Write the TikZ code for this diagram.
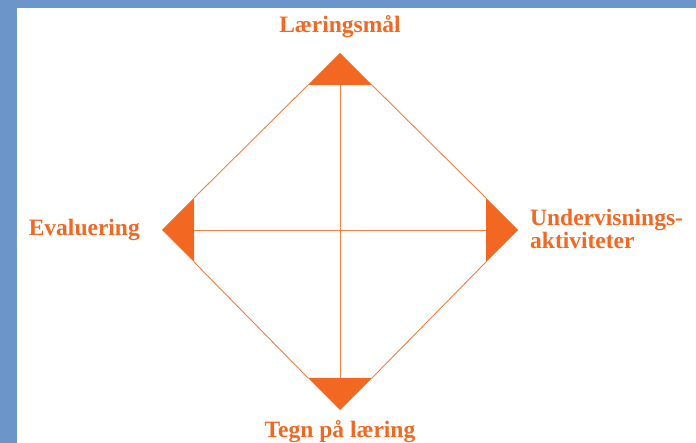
\documentclass[tikz,border=0pt]{standalone}
\usepackage{fontspec}
\setmainfont{Liberation Serif}
\usepackage{tikz}
\usetikzlibrary{positioning}

\definecolor{bgblue}{HTML}{6C95C9}
\definecolor{lorange}{HTML}{F26822}

\begin{document}
\begin{tikzpicture}[x=1pt,y=-1pt,
    corner/.style={fill=lorange},
    edge/.style={draw=lorange!85, line width=0.9pt},
    tagtext/.style={text=lorange, inner sep=0pt, font=\fontsize{23.5}{23}\selectfont\bfseries}]
    % frame
    \useasboundingbox (0,0) rectangle (696,443);
    \fill[bgblue] (0,0) rectangle (696,443);
    \fill[white] (17,8) rectangle (696,443);

    % corners of the diamond
    \coordinate (top) at (340,53);
    \coordinate (right) at (518,230);
    \coordinate (bot) at (340,410);
    \coordinate (left) at (162,230);
    % bases of the triangles
    \coordinate (topL) at (308,85);  \coordinate (topM) at (340,85);  \coordinate (topR) at (372,85);
    \coordinate (rightT) at (486,198); \coordinate (rightM) at (486,230); \coordinate (rightB) at (486,262);
    \coordinate (botL) at (308,378); \coordinate (botM) at (340,378); \coordinate (botR) at (372,378);
    \coordinate (leftT) at (194,198); \coordinate (leftM) at (194,230); \coordinate (leftB) at (194,262);

    % sides and cross
    \draw[edge] (topR) -- (rightT);
    \draw[edge] (rightB) -- (botR);
    \draw[edge] (botL) -- (leftB);
    \draw[edge] (leftT) -- (topL);
    \draw[edge] (topM) -- (botM);
    \draw[edge] (leftM) -- (rightM);

    % triangles
    \fill[corner] (top) -- (topL) -- (topR) -- cycle;
    \fill[corner] (right) -- (rightT) -- (rightB) -- cycle;
    \fill[corner] (bot) -- (botL) -- (botR) -- cycle;
    \fill[corner] (left) -- (leftT) -- (leftB) -- cycle;

    % labels
    \node[tagtext, anchor=base] (goal) at (340,33) {Læringsmål};
    \node[tagtext, anchor=base east] (eval) at (140,236) {Evaluering};
    \node[tagtext, anchor=north west, align=left] (act) at (530,209) {Undervisnings-\\aktiviteter};
    \node[tagtext, anchor=base] (sign) at (340,437) {Tegn på læring};
\end{tikzpicture}
\end{document}
